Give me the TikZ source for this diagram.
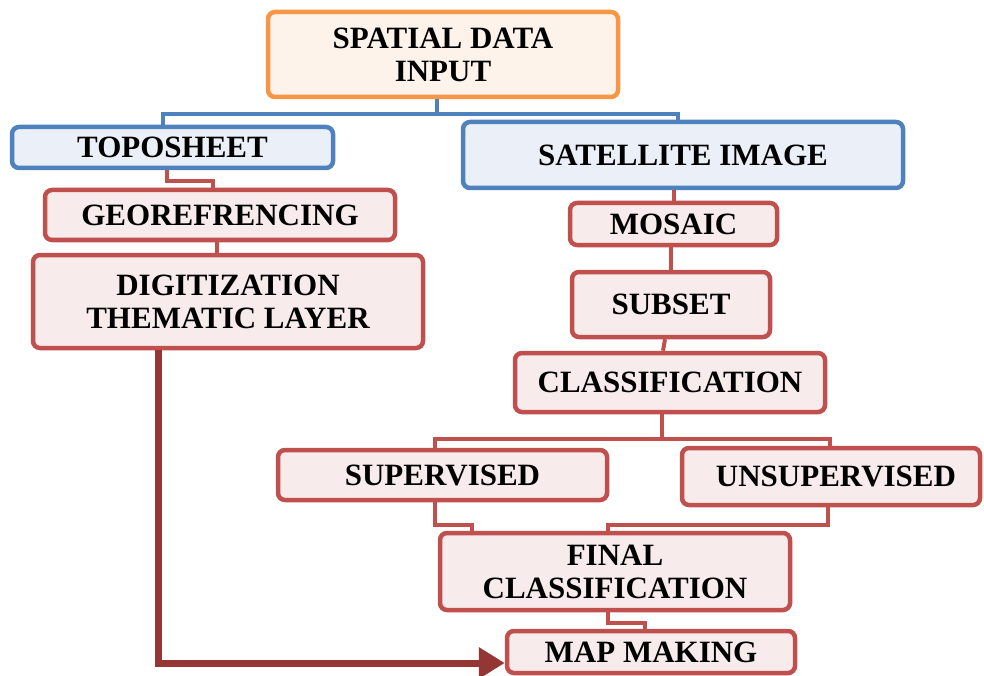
\documentclass[tikz,border=0pt]{standalone}
\usepackage{fontspec}
\setmainfont{Liberation Serif}
\usetikzlibrary{arrows.meta}
\definecolor{redline}{HTML}{C0504D}
\definecolor{redfill}{HTML}{F7ECEB}
\definecolor{blueline}{HTML}{4F81BD}
\definecolor{bluefill}{HTML}{EBF0F8}
\definecolor{orangeline}{HTML}{F79646}
\definecolor{orangefill}{HTML}{FDF3EA}
\definecolor{arrowred}{HTML}{943634}
\tikzset{
  box/.style={draw, line width=4.5pt, rounded corners=7pt, align=center, inner sep=0pt,
    font=\fontsize{31}{33}\selectfont\bfseries},
  redbox/.style={box, draw=redline, fill=redfill},
  bluebox/.style={box, draw=blueline, fill=bluefill},
  orangebox/.style={box, draw=orangeline, fill=orangefill},
  rc/.style={draw=redline, line width=4pt},
  bc/.style={draw=blueline, line width=4pt},
  arr/.style={draw=arrowred, line width=7pt, -{Triangle[length=26pt,width=30pt]}}
}
\begin{document}
\begin{tikzpicture}[x=1pt,y=-1pt]
\useasboundingbox (0,0) rectangle (984,676);

\node[orangebox, minimum width=350pt, minimum height=85pt] (spatial) at (443,54.5) {SPATIAL DATA\\INPUT};
\node[bluebox, minimum width=321pt, minimum height=41pt] (topo) at (172.5,147.5) {TOPOSHEET};
\node[bluebox, minimum width=440pt, minimum height=66pt] (sat) at (683,155) {SATELLITE IMAGE};
\node[redbox, minimum width=350pt, minimum height=50pt] (geo) at (220,215) {GEOREFRENCING};
\node[redbox, minimum width=390pt, minimum height=93pt] (digit) at (228,301.5) {DIGITIZATION\\THEMATIC LAYER};
\node[redbox, minimum width=207pt, minimum height=42pt] (mosaic) at (673.5,224) {MOSAIC};
\node[redbox, minimum width=198pt, minimum height=65pt] (subset) at (671,304.5) {SUBSET};
\node[redbox, minimum width=310pt, minimum height=59pt] (classif) at (670,382.5) {CLASSIFICATION};
\node[redbox, minimum width=329pt, minimum height=50pt] (sup) at (442.5,475) {SUPERVISED};
\node[redbox, minimum width=298pt, minimum height=57pt] (unsup) at (831,476.5) {\hspace*{10pt}UNSUPERVISED};
\node[redbox, minimum width=350pt, minimum height=77pt] (final) at (615,571.5) {FINAL\\CLASSIFICATION};
\node[redbox, minimum width=288pt, minimum height=42pt] (map) at (651,652) {MAP MAKING};

% blue connectors
\draw[bc] ([xshift=-6pt]spatial.south) -- ++(0,15) -| ([xshift=-9.5pt]topo.north);
\draw[bc] ([xshift=-6pt]spatial.south) -- ++(0,15) -| ([xshift=-5pt]sat.north);

% red connectors
\draw[rc] ([xshift=-5.5pt]topo.south) -- ++(0,11) -| ([xshift=-7pt]geo.north);
\draw[rc] ([xshift=-3pt]geo.south) -- ([xshift=-11pt]digit.north);
\draw[rc] (mosaic.north |- sat.south) -- (mosaic.north);
\draw[rc] (subset.north |- mosaic.south) -- (subset.north);
\draw[rc] ([xshift=-6pt]subset.south) -- ([xshift=-7pt]classif.north);
\draw[rc] ([xshift=-8pt]classif.south) -- ++(0,25) -| ([xshift=-7.5pt]sup.north);
\draw[rc] ([xshift=-8pt]classif.south) -- ++(0,25) -| ([xshift=-1pt]unsup.north);
\draw[rc] ([xshift=-7.5pt]sup.south) -- ++(0,23) -| ([xshift=-143pt]final.north);
\draw[rc] ([xshift=-3pt]unsup.south) -- ++(0,18) -| ([xshift=-7pt]final.north);
\draw[rc] ([xshift=-7pt]final.south) -- ++(0,11) -| ([xshift=-6pt]map.north);

% arrow
\draw[arr] ([xshift=-70pt]digit.south) |- ([yshift=-11pt]map.west);
\end{tikzpicture}
\end{document}
